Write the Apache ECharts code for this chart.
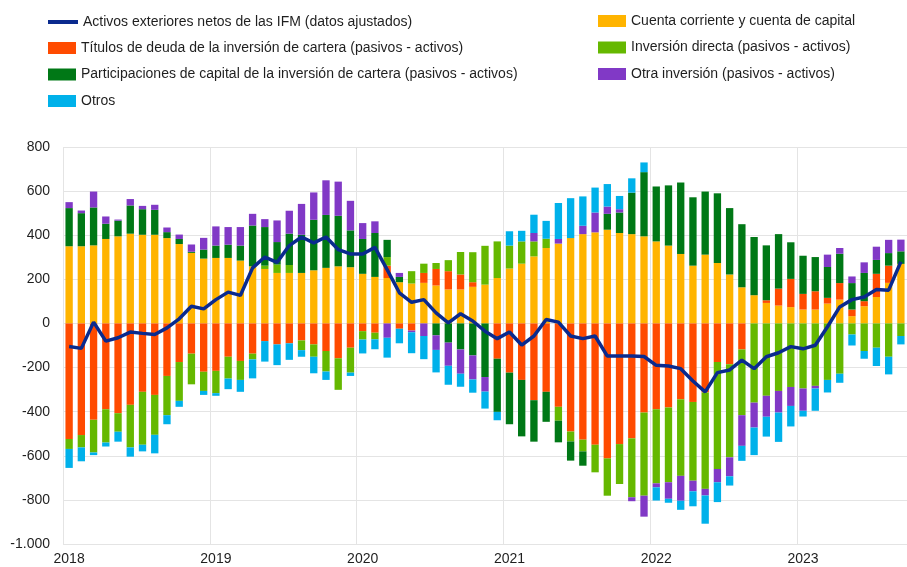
<!DOCTYPE html>
<html>
<head>
<meta charset="utf-8">
<script src="https://cdn.jsdelivr.net/npm/echarts@6.0.0/dist/echarts.min.js"></script>
<style>
  html, body { margin: 0; padding: 0; background: #fff; overflow: hidden; }
  #main { width: 907px; height: 567px; }
</style>
</head>
<body>
<div id="main"></div>
<script>
// años del eje x (12 meses cada uno, el último hasta septiembre)
var years = ["2018", "2019", "2020", "2021", "2022", "2023"];
var lastYearMonths = 9;

// Cuenta corriente y cuenta de capital
var cuentaCorriente = [
  350, 350, 354, 383, 395, 407, 402, 402, 387, 360, 320, 294,
  297, 297, 285, 259, 247, 229, 229, 229, 241, 252, 259, 255,
  225, 211, 206, 187, 181, 184, 172, 154, 154, 166, 176, 206,
  249, 271, 304, 342, 362, 387, 405, 413, 425, 410, 405, 395,
  372, 353, 315, 262, 312, 274, 222, 164, 128, 93, 81, 74,
  63, 63, 90, 108, 33, 78, 120, 184, 270
];
// Títulos de deuda de la inversión de cartera
var titulosDeuda = [
  -524, -506, -437, -389, -407, -369, -310, -324, -238, -175, -137, -219,
  -215, -151, -170, -137, -80, -95, -90, -77, -95, -125, -158, -110,
  -35, -42, 56, -24, -32, 45, 75, 83, 68, 21, 0, -160,
  -223, -256, -348, -310, -378, -490, -527, -550, -612, -547, -521, -404,
  -389, -381, -344, -356, -313, -175, -185, -118, 0, 12, 77, 128,
  71, 83, 26, 75, 30, 23, 105, 78, 0
];
// Inversión directa
var inversionDirecta = [
  -45, -56, -148, -151, -84, -193, -240, -181, -178, -176, -139, -87,
  -101, -99, -86, -26, 15, 38, 36, -44, -56, -93, -143, -113,
  -38, -30, 39, 0, 56, 42, 27, 50, 102, 136, 176, 166,
  104, 101, 68, 42, -63, -45, -53, -125, -169, -181, -267, -377,
  -336, -339, -347, -357, -437, -485, -422, -298, -359, -328, -306, -288,
  -295, -283, -256, -228, -50, -125, -110, -151, -57
];
// Participaciones de capital de la inversión de cartera
var participaciones = [
  173, 150, 172, 69, 71, 128, 116, 113, 27, 23, 5, 41,
  56, 60, 68, 185, 175, 102, 142, 173, 229, 240, 229, 167,
  158, 199, 78, 24, 0, 0, -54, -87, -118, -145, -243, -241,
  -234, -256, -188, -136, -98, -87, -65, 0, 72, 93, 188, 291,
  249, 273, 324, 310, 286, 316, 301, 286, 264, 249, 247, 166,
  173, 155, 140, 133, 120, 128, 63, 57, 57
];
// Otra inversión
var otraInversion = [
  27, 12, 72, 33, 5, 29, 15, 23, 21, 20, 33, 53,
  87, 80, 84, 53, 36, 98, 104, 140, 124, 157, 155, 134,
  72, 53, -65, 18, -8, -57, -66, -105, -110, -109, -66, 0,
  0, 0, 38, 0, 21, 0, 38, 90, 33, 15, -18, -95,
  -18, -75, -113, -48, -30, -60, -86, -139, -113, -95, -98, -86,
  -101, -12, 56, 26, 30, 48, 60, 60, 53
];
// Otros
var otros = [
  -86, -63, -12, -18, -45, -42, -30, -84, -41, -27, 0, -18,
  -12, -48, -54, -86, -93, -94, -75, -30, -75, -38, 0, -15,
  -63, -45, -90, -66, -95, -105, -102, -86, -59, -60, -77, -38,
  65, 48, 83, 81, 163, 181, 133, 113, 102, 60, 65, 44,
  -60, -18, -41, -68, -128, -90, -42, -68, -125, -90, -133, -93,
  -26, -101, -57, -41, -50, -35, -83, -80, -38
];
// Activos exteriores netos de las IFM (datos ajustados)
var activosNetos = [
  -105, -113, 6, -80, -65, -39, -45, -50, -20, 21, 78, 66,
  108, 142, 127, 252, 301, 277, 353, 392, 365, 392, 335, 315,
  315, 345, 244, 139, 96, 108, 48, 3, 44, 11, -35, -69,
  -39, -98, -57, 18, 6, -57, -69, -57, -148, -148, -148, -150,
  -190, -193, -205, -261, -310, -223, -211, -166, -205, -151, -133, -105,
  -115, -99, -15, 75, 108, 120, 154, 151, 280
];

var fontFamily = '"Liberation Sans", Arial, sans-serif';
var textColor = "#1f1f1f";

// categorías mensuales
var months = [];
years.forEach(function (y, i) {
  var n = i === years.length - 1 ? lastYearMonths : 12;
  for (var m = 1; m <= n; m++) {
    months.push(y + "-" + (m < 10 ? "0" + m : m));
  }
});

// formato español del eje y (-1.000)
function fmtValue(v) {
  var a = Math.abs(v);
  if (a >= 1000) {
    var r = String(a % 1000);
    while (r.length < 3) r = "0" + r;
    return (v < 0 ? "-" : "") + Math.floor(a / 1000) + "." + r;
  }
  return String(v);
}

function barSeries(name, data, color) {
  return {
    name: name,
    type: "bar",
    stack: "total",
    barWidth: "60%",
    itemStyle: { color: color },
    data: data,
  };
}

var legendText = { color: textColor, fontSize: 14, fontFamily: fontFamily };

var chart = echarts.init(document.getElementById("main"), null, { renderer: "canvas" });
var option = {
  animation: false,
  backgroundColor: "#ffffff",
  legend: [
    {
      left: 48, top: 15, padding: 0, orient: "vertical",
      icon: "rect", itemWidth: 30, itemHeight: 4,
      textStyle: legendText,
      data: ["Activos exteriores netos de las IFM (datos ajustados)"],
    },
    {
      left: 48, top: 41, padding: 0, orient: "vertical",
      icon: "rect", itemWidth: 28, itemHeight: 12, itemGap: 12.5,
      textStyle: legendText,
      data: [
        "Títulos de deuda de la inversión de cartera (pasivos - activos)",
        "Participaciones de capital de la inversión de cartera (pasivos - activos)",
        "Otros",
      ],
    },
    {
      left: 598, top: 14, padding: 0, orient: "vertical",
      icon: "rect", itemWidth: 28, itemHeight: 12, itemGap: 12.5,
      textStyle: legendText,
      data: [
        "Cuenta corriente y cuenta de capital",
        "Inversión directa (pasivos - activos)",
        "Otra inversión (pasivos - activos)",
      ],
    },
  ],
  grid: { left: 63, right: -6, top: 147, bottom: 23 },
  xAxis: {
    type: "category",
    data: months,
    axisLine: { show: false },
    axisTick: { show: false, interval: 11 },
    splitLine: { show: true, interval: 11, lineStyle: { color: "#e4e4e4", width: 1 } },
    axisLabel: {
      interval: 11,
      margin: 8,
      color: textColor,
      fontSize: 14,
      fontFamily: fontFamily,
      formatter: function (v) { return v.slice(0, 4); },
    },
  },
  yAxis: {
    type: "value",
    min: -1000,
    max: 800,
    interval: 200,
    axisLine: { show: false },
    axisTick: { show: false },
    splitLine: { lineStyle: { color: "#e4e4e4", width: 1 } },
    axisLabel: {
      margin: 13,
      color: textColor,
      fontSize: 14,
      fontFamily: fontFamily,
      formatter: fmtValue,
    },
  },
  series: [
    barSeries("Cuenta corriente y cuenta de capital", cuentaCorriente, "#FFB400"),
    barSeries("Títulos de deuda de la inversión de cartera (pasivos - activos)", titulosDeuda, "#FF4B00"),
    barSeries("Inversión directa (pasivos - activos)", inversionDirecta, "#65B800"),
    barSeries("Participaciones de capital de la inversión de cartera (pasivos - activos)", participaciones, "#007816"),
    barSeries("Otra inversión (pasivos - activos)", otraInversion, "#8139C6"),
    barSeries("Otros", otros, "#00B1EA"),
    {
      name: "Activos exteriores netos de las IFM (datos ajustados)",
      type: "line",
      z: 5,
      symbol: "none",
      lineStyle: { color: "#0A2A8E", width: 3.5 },
      itemStyle: { color: "#0A2A8E" },
      data: activosNetos,
    },
  ],
};
chart.setOption(option);
</script>
</body>
</html>
